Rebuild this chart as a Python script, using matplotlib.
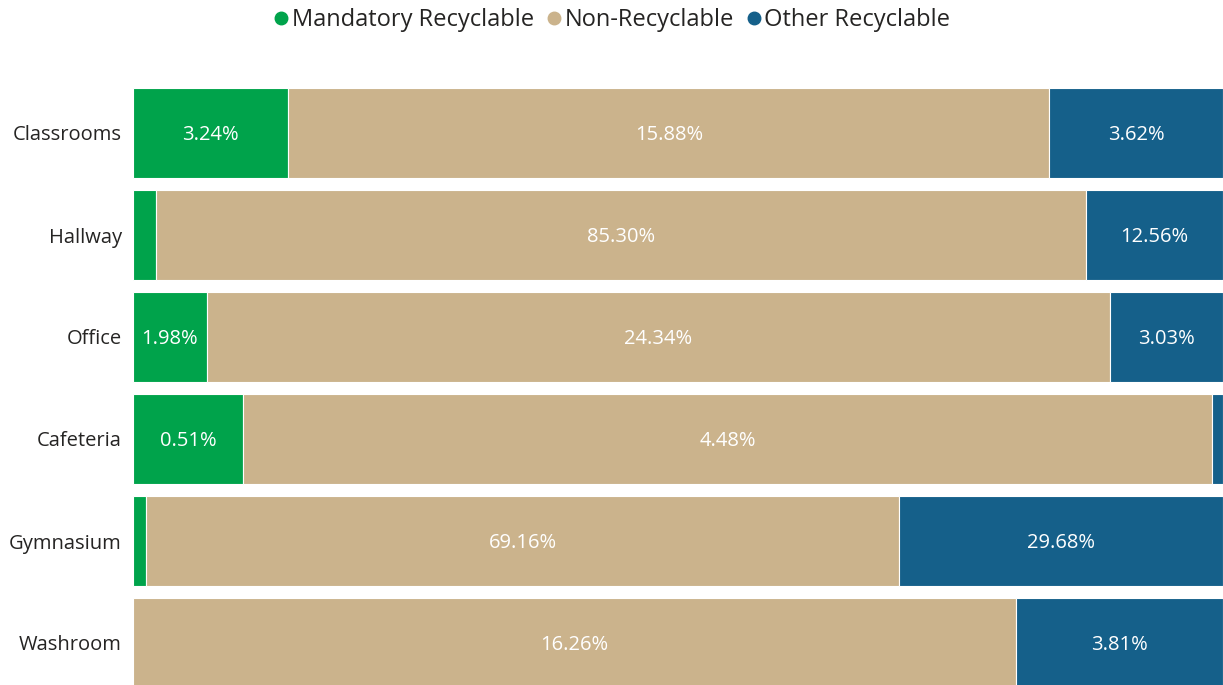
import matplotlib
matplotlib.use("Agg")
import matplotlib.pyplot as plt
import numpy as np
from matplotlib.lines import Line2D

plt.rcParams['font.family'] = ['Open Sans', 'DejaVu Sans']

categories = ["Classrooms", "Hallway", "Office", "Cafeteria", "Gymnasium", "Washroom"]
series_names = ["Mandatory Recyclable", "Non-Recyclable", "Other Recyclable"]
mandatory = [3.24, 2.14, 1.98, 0.51, 1.16, 0.0]
non_recyclable = [15.88, 85.30, 24.34, 4.48, 69.16, 16.26]
other = [3.62, 12.56, 3.03, 0.05, 29.68, 3.81]
colors = ["#00A34B", "#CBB38C", "#15608A"]

data = np.array([mandatory, non_recyclable, other])
totals = data.sum(axis=0)
shares = data / totals

fig = plt.figure(figsize=(12.23, 6.85), dpi=100)
ax = fig.add_axes([133/1223, 0.0, 1 - 133/1223, 1 - 82/685])

y = np.arange(len(categories))
left = np.zeros(len(categories))
for i, (name, col) in enumerate(zip(series_names, colors)):
    ax.barh(y, shares[i], left=left, height=0.88, color=col, edgecolor='white', linewidth=0.8)
    for j in range(len(categories)):
        w = shares[i][j]
        if w > 0.06:
            ax.text(left[j] + w / 2, y[j] + 0.02, f"{data[i][j]:.2f}%", ha='center', va='center',
                    color='white', fontsize=14.5)
    left += shares[i]

ax.set_xlim(0, 1)
ax.set_ylim(len(categories) - 1 + (685 - 643) / 102, -0.5)
ax.set_yticks(y)
ax.set_yticklabels(categories, fontsize=14.5, color='#252423')
ax.tick_params(axis='y', length=0, pad=8)
ax.set_xticks([])
for s in ax.spines.values():
    s.set_visible(False)

handles = [Line2D([0], [0], marker='o', linestyle='', color=c, markersize=9) for c in colors]
fig.legend(handles, series_names, loc='center', bbox_to_anchor=(611/1223, 1 - 20/685), ncol=3,
           frameon=False, fontsize=17, handletextpad=0.05, columnspacing=0.45,
           labelcolor='#252423', handlelength=0.8)

fig.savefig("out.png", dpi=100)
